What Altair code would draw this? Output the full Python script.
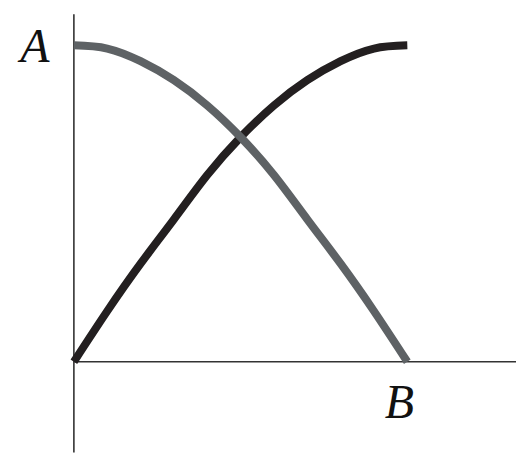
import altair as alt
import pandas as pd

# data (x from origin to B, y from 0 to A)
xs = [0.0, 0.1, 0.2, 0.3, 0.4, 0.5, 0.6, 0.7, 0.8, 0.9, 1.0]
rising = [0.0, 0.16, 0.31, 0.45, 0.59, 0.71, 0.81, 0.89, 0.95, 0.99, 1.0]
falling = [1.0, 0.99, 0.95, 0.89, 0.81, 0.71, 0.59, 0.45, 0.31, 0.16, 0.0]
labels = ["A", "B"]
label_x = [-0.117, 0.976]
label_y = [0.946, -0.177]

XD = [-0.1976, 1.326]
YD = [-0.287, 1.1167]

df = pd.DataFrame({"x": xs + xs,
                   "y": rising + falling,
                   "s": ["rise"] * len(xs) + ["fall"] * len(xs)})
lab = pd.DataFrame({"t": labels, "x": label_x, "y": label_y})

xsc = alt.Scale(domain=XD, nice=False, zero=False)
ysc = alt.Scale(domain=YD, nice=False, zero=False)

axes_df = pd.DataFrame({"x": [0.0, 0.0], "x2": [0.0, 1.326],
                        "y": [-0.287, 0.0], "y2": [1.098, 0.0]})
axes = alt.Chart(axes_df).mark_rule(color="#333333", strokeWidth=1.6).encode(
    x=alt.X("x:Q", scale=xsc, axis=None),
    x2="x2:Q",
    y=alt.Y("y:Q", scale=ysc, axis=None),
    y2="y2:Q",
)

dark = alt.Chart(df[df.s == "rise"]).mark_line(
    color="#231f20", strokeWidth=8, strokeCap="butt", interpolate="natural"
).encode(x=alt.X("x:Q", scale=xsc, axis=None), y=alt.Y("y:Q", scale=ysc, axis=None))

gray = alt.Chart(df[df.s == "fall"]).mark_line(
    color="#5e6265", strokeWidth=8, strokeCap="butt", interpolate="natural"
).encode(x=alt.X("x:Q", scale=xsc, axis=None), y=alt.Y("y:Q", scale=ysc, axis=None))

text = alt.Chart(lab).mark_text(
    font="Liberation Serif", fontStyle="italic", fontSize=48, color="#111111",
    align="center", baseline="alphabetic"
).encode(x=alt.X("x:Q", scale=xsc, axis=None), y=alt.Y("y:Q", scale=ysc, axis=None), text="t:N")

chart = alt.layer(axes, dark, gray, text).properties(
    width=509, height=445, padding=0, background="white"
).configure_view(stroke=None)

chart.save("out.html", embed_options={"renderer": "svg", "actions": False})
